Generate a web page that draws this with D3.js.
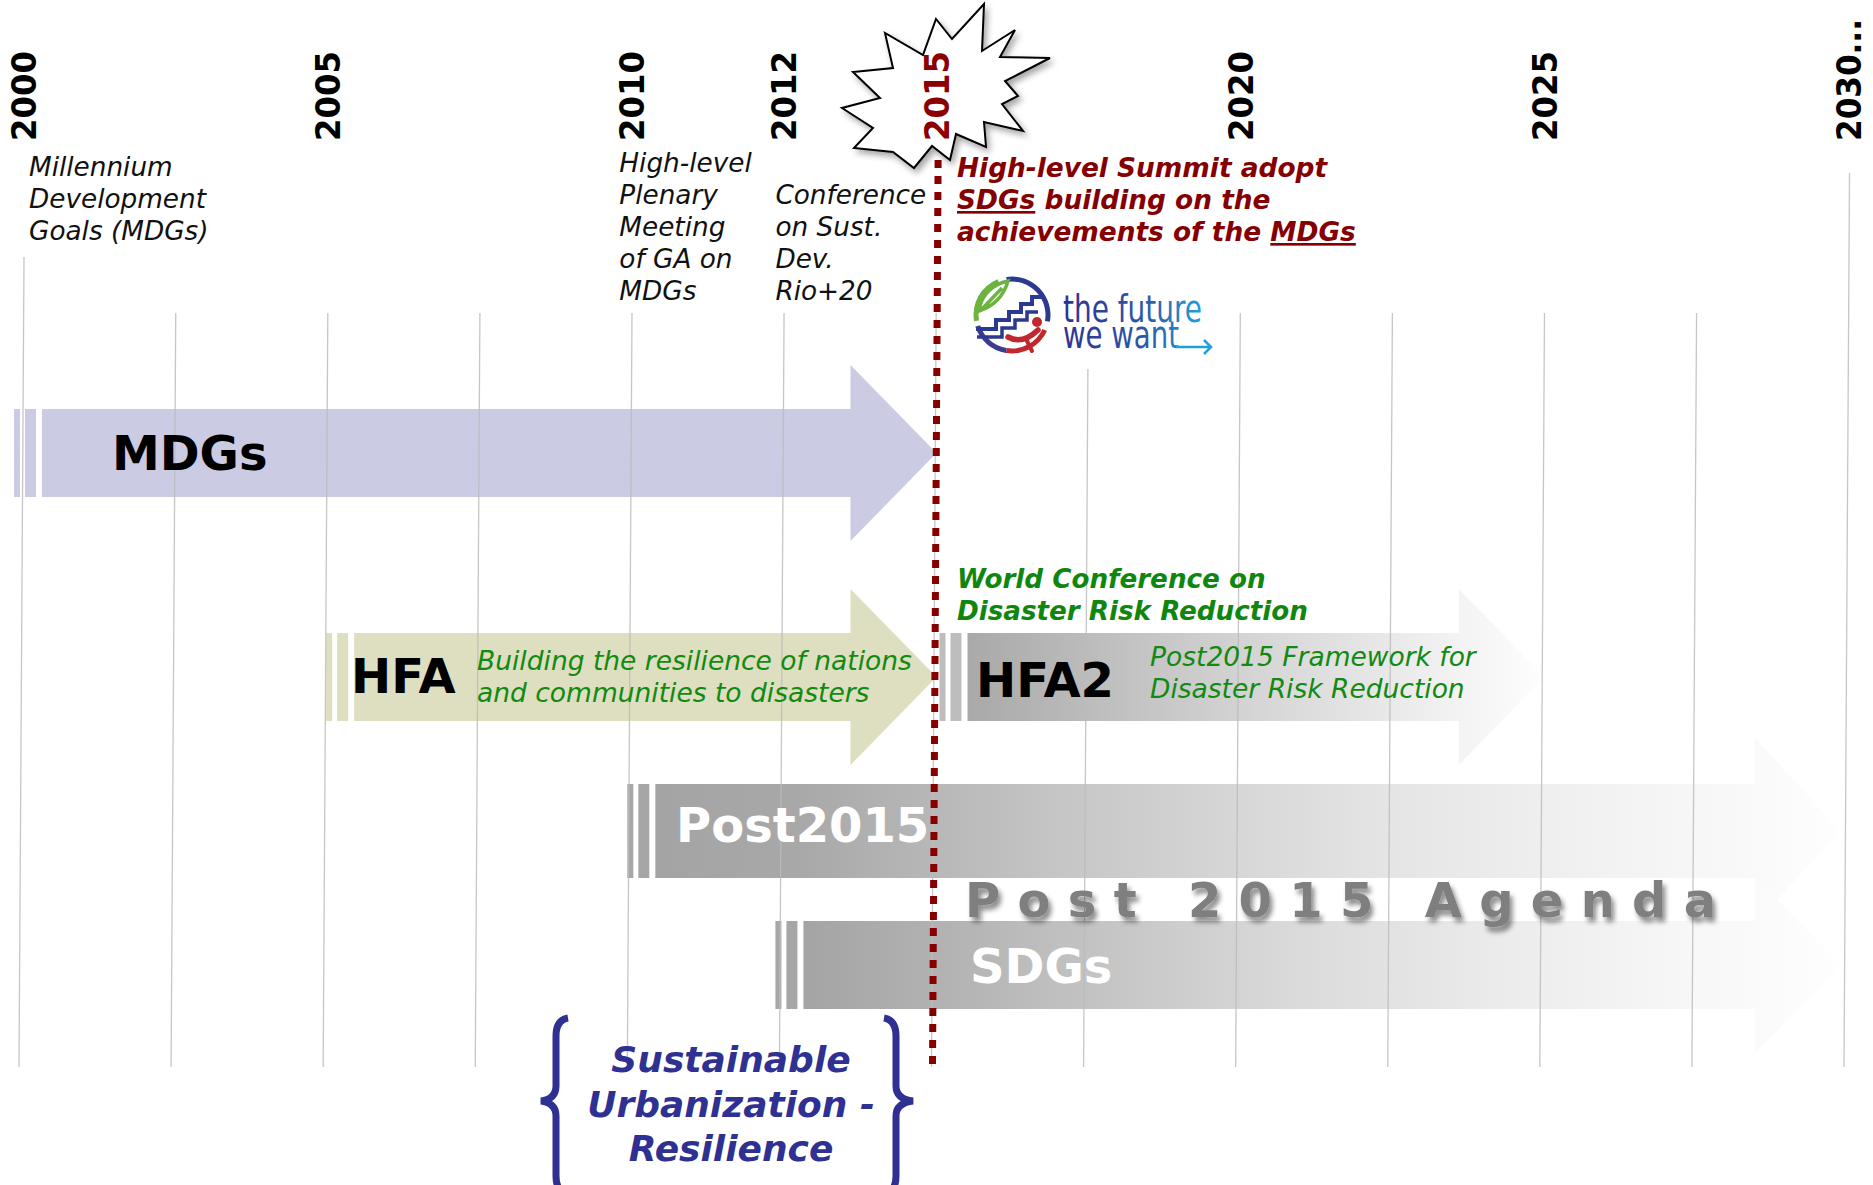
<!DOCTYPE html>
<html>
<head>
<meta charset="utf-8">
<script src="https://cdn.jsdelivr.net/npm/d3@7"></script>
<style>
body{margin:0;background:#fff}
svg{display:block}
text{font-family:"DejaVu Sans",Verdana,sans-serif}
</style>
</head>
<body>
<div class="graphics"></div>
<script>
// columnas del slide: cada columna es un "hueco", no es lineal en años
var gridYears = [2000, 2002.5, 2005, 2007.5, 2010, 2012, 2015, 2017.5, 2020, 2022.5, 2025, 2027.5, 2030];
var tickYears = [2000, 2005, 2010, 2012, 2015, 2020, 2025, 2030];
var tickLabels = ["2000", "2005", "2010", "2012", "2015", "2020", "2025", "2030..."];

// flechas (procesos)
var arrowNames = ["MDGs", "HFA", "HFA2", "Post2015", "SDGs"];
var arrowStart = [2000, 2005, 2015, 2010, 2012];
var arrowEnd   = [2015, 2015, 2025, 2030, 2030];
var arrowRow   = ["mdg", "hfa", "hfa", "post", "sdg"];
var arrowNotes = [[], ["Building the resilience of nations", "and communities to disasters"],
                  ["Post2015 Framework for", "Disaster Risk Reduction"], [], []];

// eventos arriba
var eventYears = [2000, 2010, 2012];
var eventLines = [["Millennium", "Development", "Goals (MDGs)"],
                  ["High-level", "Plenary", "Meeting", "of GA on", "MDGs"],
                  ["Conference", "on Sust.", "Dev.", "Rio+20"]];

var summitLines = [["High-level Summit adopt"], ["SDGs", " building on the"], ["achievements of the ", "MDGs"]];
var wcdrrLines = ["World Conference on", "Disaster Risk Reduction"];
var agendaText = "Post 2015 Agenda";
var urbanLines = ["Sustainable", "Urbanization -", "Resilience"];
var logoLines = ["the future", "we want"];

var w = 1873, h = 1185;
var svg, x;

function draw(){
    svg = d3.select('.graphics').append('svg')
        .attr('width', w).attr('height', h);

    var defs = svg.append('defs');
    var sh = defs.append('filter').attr('id', 'shadow').attr('x', '-20%').attr('y', '-20%').attr('width', '150%').attr('height', '160%');
    sh.append('feDropShadow').attr('dx', 3).attr('dy', 4).attr('stdDeviation', 3)
        .attr('flood-color', '#000').attr('flood-opacity', 0.35);
    var ts = defs.append('filter').attr('id', 'tshadow').attr('x', '-10%').attr('y', '-30%').attr('width', '130%').attr('height', '180%');
    ts.append('feDropShadow').attr('dx', 3).attr('dy', 5).attr('stdDeviation', 2.5)
        .attr('flood-color', '#000').attr('flood-opacity', 0.45);

    x = d3.scalePoint().domain(gridYears).range([24, 1849]);
    // el slide esta un poco inclinado
    var tilt = function(y){ return -(y - 257) * 5 / 810; };

    // filas
    var rowY    = d3.scaleOrdinal().domain(["mdg", "hfa", "post", "sdg"]).range([453, 677, 831, 965]);
    var rowBody = d3.scaleOrdinal().domain(["mdg", "hfa", "post", "sdg"]).range([44, 44, 47, 44]);
    var rowHead = d3.scaleOrdinal().domain(["mdg", "hfa", "post", "sdg"]).range([88, 88, 93, 88]);

    var fills = {MDGs: "#cbcbe3", HFA: "#dedec0"};
    var grads = {
        HFA2: [[0, "#a9a9a9"], [0.3, "#c4c4c4"], [0.65, "#e2e2e2"], [0.85, "#f3f3f3"], [1, "#fefefe"]],
        Post2015: [[0, "#a4a4a4"], [0.12, "#a8a8a8"], [0.36, "#c8c8c8"], [0.62, "#e5e5e5"], [0.8, "#f2f2f2"], [0.92, "#f9f9f9"], [1, "#fefefe"]],
        SDGs: [[0, "#a4a4a4"], [0.15, "#b4b4b4"], [0.47, "#dadada"], [0.68, "#ececec"], [0.85, "#f7f7f7"], [1, "#fefefe"]]
    };
    var stripeCol = {MDGs: "#cbcbe3", HFA: "#dedec0", HFA2: "#bdbdbd", Post2015: "#a6a6a6", SDGs: "#a6a6a6"};
    var nudge = {MDGs: -4, HFA: 4, HFA2: 9, Post2015: 1, SDGs: -3};
    var labelX = {MDGs: 112, HFA: 351, HFA2: 976, Post2015: 676, SDGs: 970};
    var labelDy = {MDGs: 17, HFA: 16, HFA2: 20, Post2015: 11, SDGs: 18};
    var labelCol = {MDGs: "#000", HFA: "#000", HFA2: "#000", Post2015: "#fff", SDGs: "#fff"};

    var arrows = arrowNames.map(function(d, i){
        return {name: d, start: arrowStart[i], end: arrowEnd[i], row: arrowRow[i], notes: arrowNotes[i]};
    });

    arrows.forEach(function(d){
        var x0 = x(d.start) + nudge[d.name];
        var bx = x0 + 22;
        var tip = x(d.end) - (d.end === 2030 ? 8 : 0);
        var yc = rowY(d.row), bh = rowBody(d.row), hh = rowHead(d.row), hl = 86;
        var fill = fills[d.name];
        if (grads[d.name]){
            var g = defs.append('linearGradient').attr('id', 'g' + d.name)
                .attr('gradientUnits', 'userSpaceOnUse')
                .attr('x1', bx).attr('x2', tip).attr('y1', 0).attr('y2', 0);
            grads[d.name].forEach(function(s){
                g.append('stop').attr('offset', s[0]).attr('stop-color', s[1]);
            });
            fill = 'url(#g' + d.name + ')';
        }
        var p = d3.path();
        p.moveTo(bx, yc - bh);
        p.lineTo(tip - hl, yc - bh);
        p.lineTo(tip - hl, yc - hh);
        p.lineTo(tip, yc);
        p.lineTo(tip - hl, yc + hh);
        p.lineTo(tip - hl, yc + bh);
        p.lineTo(bx, yc + bh);
        p.closePath();
        svg.append('path').attr('class', 'arrow').attr('d', p.toString()).attr('fill', fill);
        // rayitas a la izquierda
        svg.append('rect').attr('x', x0 - 6).attr('y', yc - bh).attr('width', 6).attr('height', bh * 2).attr('fill', stripeCol[d.name]);
        svg.append('rect').attr('x', x0 + 5).attr('y', yc - bh).attr('width', 11).attr('height', bh * 2).attr('fill', stripeCol[d.name]);
    });

    // rejilla
    var gridTop = {2000: 257, 2017.5: 369, 2030: 173};
    svg.selectAll('line.grid')
        .data(gridYears)
        .enter()
        .append('line')
        .attr('class', 'grid')
        .attr('x1', function(d){ return x(d) + tilt(gridTop[d] || 313); })
        .attr('y1', function(d){ return gridTop[d] || 313; })
        .attr('x2', function(d){ return x(d) + tilt(1067); })
        .attr('y2', 1067)
        .attr('stroke', '#bcbcbc')
        .attr('stroke-opacity', 0.85)
        .attr('stroke-width', 1.3);

    // textos de las flechas
    arrows.forEach(function(d){
        var yc = rowY(d.row);
        svg.append('text')
            .attr('x', labelX[d.name]).attr('y', yc + labelDy[d.name])
            .attr('font-size', 48).attr('font-weight', 'bold')
            .attr('fill', labelCol[d.name])
            .text(d.name);
    });
    var noteX = {HFA: 477, HFA2: 1150};
    var noteY = {HFA: 670, HFA2: 666};
    arrows.filter(function(d){ return d.notes.length; }).forEach(function(d){
        svg.selectAll(null).data(d.notes).enter().append('text')
            .attr('x', noteX[d.name])
            .attr('y', function(t, i){ return noteY[d.name] + i * 31.5; })
            .attr('font-size', 26.5).attr('font-style', 'italic')
            .attr('fill', '#128a12')
            .text(function(t){ return t; });
    });

    svg.append('text')
        .attr('x', 965).attr('y', 917)
        .attr('font-size', 48).attr('font-weight', 'bold')
        .attr('letter-spacing', 17.3)
        .attr('fill', '#7f7f7f')
        .attr('filter', 'url(#tshadow)')
        .text(agendaText);

    // eventos
    var eventDx = [5, -13, -9];
    var eventY0 = [176, 172, 204];
    eventYears.forEach(function(yr, i){
        svg.selectAll(null).data(eventLines[i]).enter().append('text')
            .attr('x', x(yr) + eventDx[i])
            .attr('y', function(t, j){ return eventY0[i] + j * 32; })
            .attr('font-size', 26.3).attr('font-style', 'italic')
            .attr('fill', '#111')
            .text(function(t){ return t; });
    });

    // cumbre 2015
    var sum = svg.append('g').attr('font-size', 26.4).attr('font-style', 'italic').attr('font-weight', 'bold').attr('fill', '#850000');
    summitLines.forEach(function(parts, i){
        var t = sum.append('text').attr('x', 957).attr('y', 177 + i * 32);
        parts.forEach(function(p){
            t.append('tspan').attr('text-decoration', (p === "SDGs" || p === "MDGs") ? 'underline' : null).text(p);
        });
    });
    svg.selectAll(null).data(wcdrrLines).enter().append('text')
        .attr('x', 957).attr('y', function(t, i){ return 588 + i * 32; })
        .attr('font-size', 26.2).attr('font-style', 'italic').attr('font-weight', 'bold')
        .attr('fill', '#0f870f')
        .text(function(t){ return t; });

    // logo the future we want
    var logo = svg.append('g').attr('transform', 'translate(1012,315)');
    var arc = d3.arc().innerRadius(33.5).outerRadius(38.5);
    logo.append('path').attr('d', arc({startAngle: -0.15, endAngle: 1.75})).attr('fill', '#2b3990');
    logo.append('path').attr('d', arc({startAngle: 2.0, endAngle: 3.3})).attr('fill', '#c1272d');
    logo.append('path').attr('d', arc({startAngle: 3.3, endAngle: 4.4})).attr('fill', '#3c3a92');
    logo.append('path').attr('d', arc({startAngle: 4.55, endAngle: 5.9})).attr('fill', '#6cb33f');
    logo.append('path')
        .attr('d', 'M-33,-4 C-31,-20 -19,-31 -4,-34 C-8,-20 -18,-9 -33,-4 Z M-30,-6 L-10,-27')
        .attr('fill', 'none').attr('stroke', '#6cb33f').attr('stroke-width', 3.5);
    logo.append('polyline')
        .attr('points', '-36,14 -16,14 -16,5 -3,5 -3,-3 9,-3 9,-11 20,-11 20,-18 33,-18')
        .attr('fill', 'none').attr('stroke', '#2b3990').attr('stroke-width', 4);
    logo.append('polyline')
        .attr('points', '-35,22 -10,22 -10,13 3,13 3,5 15,5 15,-3 26,-3')
        .attr('fill', 'none').attr('stroke', '#2b3990').attr('stroke-width', 3.5);
    logo.append('path').attr('d', 'M-4,22 Q10,30 26,15')
        .attr('fill', 'none').attr('stroke', '#c1272d').attr('stroke-width', 5.5).attr('stroke-linecap', 'round');
    logo.append('path').attr('d', 'M14,24 L20,36')
        .attr('fill', 'none').attr('stroke', '#c1272d').attr('stroke-width', 4).attr('stroke-linecap', 'round');
    logo.append('circle').attr('cx', 25).attr('cy', 7).attr('r', 5).attr('fill', '#c1272d');
    var lg = defs.append('linearGradient').attr('id', 'logoText');
    lg.append('stop').attr('offset', 0).attr('stop-color', '#2e3192');
    lg.append('stop').attr('offset', 0.6).attr('stop-color', '#2b5aa8');
    lg.append('stop').attr('offset', 1).attr('stop-color', '#1fa0dc');
    // un solo texto con dos lineas
    var lt = svg.append('text')
        .attr('font-family', 'Lato, "Open Sans", sans-serif').attr('font-size', 37)
        .attr('fill', 'url(#logoText)');
    lt.selectAll('tspan').data(logoLines).enter().append('tspan')
        .attr('x', 1063)
        .attr('y', function(t, i){ return 322 + i * 26; })
        .attr('textLength', function(t, i){ return i ? 116 : 139; })
        .attr('lengthAdjust', 'spacingAndGlyphs')
        .text(function(t){ return t; });
    svg.append('path').attr('d', 'M1176,347 L1211,347 M1204,340 L1211,347 L1204,354')
        .attr('fill', 'none').attr('stroke', '#1fa0dc').attr('stroke-width', 2.5);

    // linea 2015 punteada
    svg.append('line')
        .attr('x1', x(2015) + tilt(160) + 1).attr('y1', 160)
        .attr('x2', x(2015) + tilt(1065) + 1).attr('y2', 1065)
        .attr('stroke', '#860000').attr('stroke-width', 7)
        .attr('stroke-dasharray', '8,8');

    // estrella
    var star = [[984,4],[982,51],[1015,30],[1000,57],[1050,58],[1005,81],[1018,96],[1002,104],[1023,131],[984,122],
                [986,147],[956,134],[950,160],[932,146],[914,168],[893,152],[854,148],[873,128],[842,108],[880,98],
                [853,72],[893,68],[885,33],[923,55],[936,19],[952,39]];
    svg.append('polygon')
        .attr('points', star.map(function(p){ return p.join(','); }).join(' '))
        .attr('fill', '#fff').attr('stroke', '#000').attr('stroke-width', 2)
        .attr('stroke-linejoin', 'miter')
        .attr('filter', 'url(#shadow)');

    // años
    svg.selectAll('text.year')
        .data(tickYears)
        .enter()
        .append('text')
        .attr('class', 'year')
        .attr('transform', function(d){ return 'translate(' + (x(d) + 12) + ',141) rotate(-90)'; })
        .attr('font-size', 33).attr('font-weight', 'bold')
        .attr('textLength', function(d, i){ return tickLabels[i].length > 4 ? 122 : 90; })
        .attr('lengthAdjust', 'spacingAndGlyphs')
        .attr('fill', function(d){ return d === 2015 ? '#8b0000' : '#000'; })
        .text(function(d, i){ return tickLabels[i]; });

    // Sustainable Urbanization - Resilience
    svg.selectAll(null).data(urbanLines).enter().append('text')
        .attr('x', 731).attr('y', function(t, i){ return 1072 + i * 44.5; })
        .attr('text-anchor', 'middle')
        .attr('font-size', 36).attr('font-style', 'italic').attr('font-weight', 'bold')
        .attr('fill', '#2e3192')
        .text(function(t){ return t; });
    svg.append('path')
        .attr('d', 'M568,1018 Q556,1020 556,1036 L556,1086 Q556,1099 541,1101 Q556,1103 556,1116 L556,1176 Q556,1192 568,1194')
        .attr('fill', 'none').attr('stroke', '#2e3192').attr('stroke-width', 7);
    svg.append('path')
        .attr('d', 'M884,1018 Q896,1020 896,1036 L896,1086 Q896,1099 913,1101 Q896,1103 896,1116 L896,1176 Q896,1192 884,1194')
        .attr('fill', 'none').attr('stroke', '#2e3192').attr('stroke-width', 7);
}

draw();
</script>
</body>
</html>
